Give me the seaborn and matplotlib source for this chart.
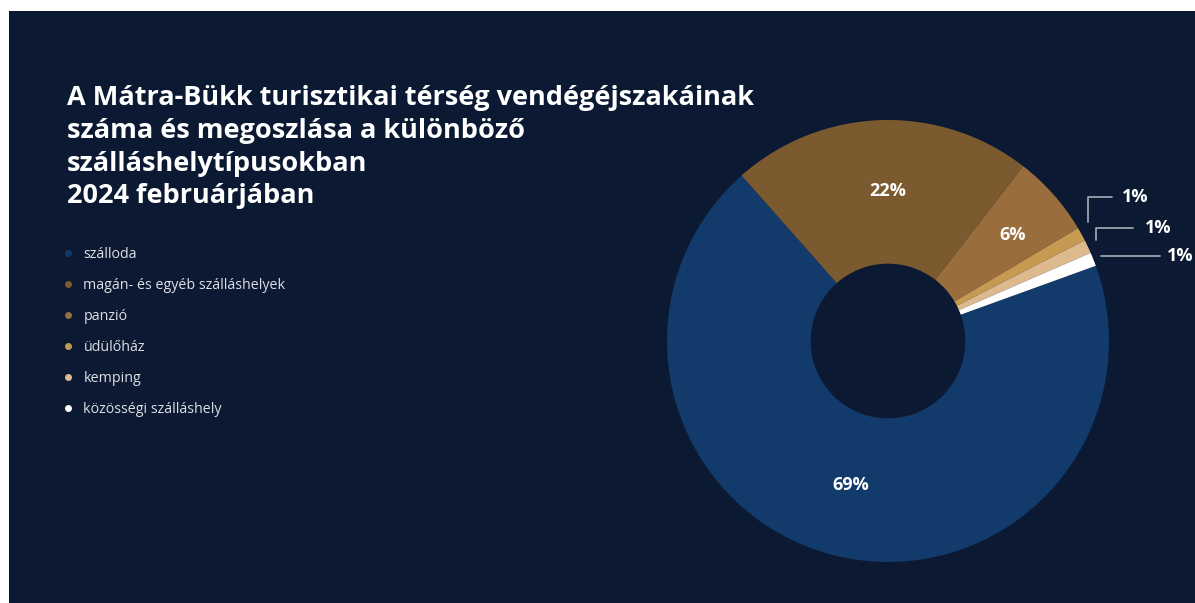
import seaborn as sns
import matplotlib.pyplot as plt
from matplotlib.patches import Rectangle
from matplotlib.lines import Line2D

sns.set_theme(style="white")
plt.rcParams["font.family"] = ["Open Sans", "DejaVu Sans"]

# data
categories = [
    "szálloda",
    "magán- és egyéb szálláshelyek",
    "panzió",
    "üdülőház",
    "kemping",
    "közösségi szálláshely",
]
shares = [69, 22, 6, 1, 1, 1]
colors = ["#123a6b", "#7c5a30", "#9a6d3d", "#c79a52", "#dfb98e", "#ffffff"]

title = ("A Mátra-Bükk turisztikai térség vendégéjszakáinak\n"
         "száma és megoszlása a különböző\n"
         "szálláshelytípusokban\n"
         "2024 februárjában")

BG = "#0b1a32"
W, H = 1195, 603

fig = plt.figure(figsize=(W / 100, H / 100), dpi=100, facecolor="white")
fig.patches.append(Rectangle((9 / W, 0), 1 - 9 / W, 1 - 11 / H,
                             transform=fig.transFigure, facecolor=BG,
                             edgecolor="none", zorder=-5))

# donut axes, centered at (888, 341) px, radius 221 px
cx, cy, r = 888, 341, 221
ax = fig.add_axes([(cx - r) / W, (H - cy - r) / H, 2 * r / W, 2 * r / H])
ax.set_zorder(2)
ax.set_facecolor("none")
ax.axis("off")

wedges, _ = ax.pie(
    shares,
    colors=colors,
    startangle=19.9,
    counterclock=False,
    radius=1,
    wedgeprops=dict(width=0.65, linewidth=0),
)
ax.set_xlim(-1, 1)
ax.set_ylim(-1, 1)

# big labels inside
big = {0: (-0.17, -0.65), 1: (0.0, 0.68), 2: (0.566, 0.48)}
for i, (x, y) in big.items():
    ax.text(x, y, f"{shares[i]}%", color="white", fontsize=13,
            fontweight="bold", ha="center", va="center")

# small labels with leader lines
leaders = [
    ([0.905, 0.905, 1.014], [0.538, 0.652, 0.652], (1.118, 0.652)),
    ([0.941, 0.941, 1.109], [0.457, 0.511, 0.511], (1.222, 0.511)),
    ([0.964, 1.231], [0.385, 0.385], (1.321, 0.385)),
]
for i, (xs, ys, (tx, ty)) in zip([3, 4, 5], leaders):
    ax.add_line(Line2D(xs, ys, color="#9aa3ad", lw=1.3, clip_on=False))
    ax.text(tx, ty, f"{shares[i]}%", color="white", fontsize=13,
            fontweight="bold", ha="center", va="center")

fig.text(67 / W, 1 - 85 / H, title, color="white", fontsize=19.5,
         fontweight="bold", ha="left", va="top", linespacing=1.34)

handles = [Line2D([], [], marker="o", ls="", color=c, markersize=4)
           for c in colors]
leg = fig.legend(handles, categories, loc="upper left",
                 bbox_to_anchor=(47 / W, 1 - 234 / H), frameon=False,
                 labelcolor="#dcdfe4", fontsize=10.3, labelspacing=1.12,
                 handletextpad=0.45, handlelength=1.2)

fig.savefig("out.png", dpi=100, facecolor=fig.get_facecolor())
